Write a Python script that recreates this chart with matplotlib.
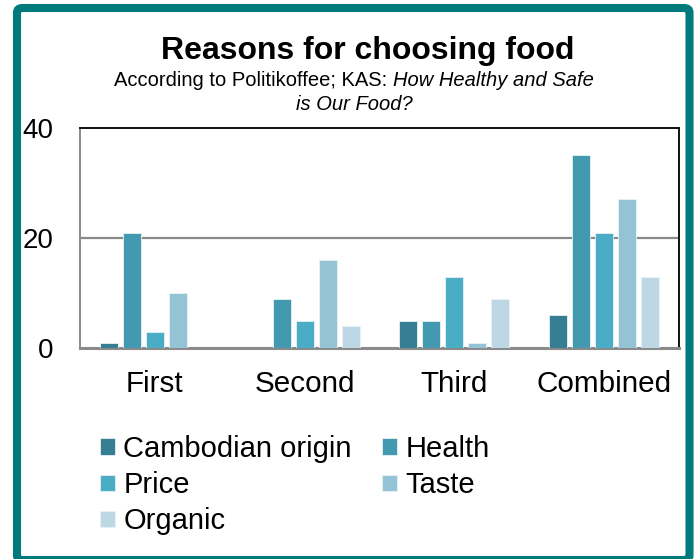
import matplotlib.pyplot as plt
import numpy as np
from matplotlib.patches import FancyBboxPatch

plt.rcParams['font.family'] = ['Liberation Sans', 'DejaVu Sans']

# survey answers per ranking position
groups = ['First', 'Second', 'Third', 'Combined']
reasons = ['Cambodian origin', 'Health', 'Price', 'Taste', 'Organic']
cambodian = [1, 0, 5, 6]
health = [21, 9, 5, 35]
price = [3, 5, 13, 21]
taste = [10, 16, 1, 27]
organic = [0, 4, 9, 13]
colors = ['#367F93', '#4399AF', '#4BACC6', '#93C3D5', '#BDD7E4']

W, H = 694, 559
fig = plt.figure(figsize=(W / 100, H / 100), dpi=100)
ax = fig.add_axes([80 / W, 1 - 348 / H, 599 / W, 220 / H])

x = np.arange(len(groups))
step = 23 / 150
width = 18 / 150
series = [cambodian, health, price, taste, organic]
bars = []
for i, (vals, col, name) in enumerate(zip(series, colors, reasons)):
    b = ax.bar(x + (i - 2) * step, vals, width, color=col, label=name,
               edgecolor='#e8f2f6', linewidth=0.6, zorder=3)
    bars.append(b)

ax.set_xlim(-0.5, 3.5)
ax.set_ylim(0, 40)
ax.set_yticks([0, 20, 40])
ax.set_yticklabels(['0', '20', '40'], fontsize=20)
ax.set_xticks(x)
ax.set_xticklabels(groups, fontsize=21.3)
ax.tick_params(length=0)
ax.tick_params(axis='y', pad=19)
ax.tick_params(axis='x', pad=16)
ax.axhline(20, color='#8a8a8a', linewidth=1.6, zorder=1)

for side in ['top', 'right']:
    ax.spines[side].set_color('#111111')
    ax.spines[side].set_linewidth(1.4)
ax.spines['left'].set_color('#8a8a8a')
ax.spines['left'].set_linewidth(1.4)
ax.spines['bottom'].set_color('#8a8a8a')
ax.spines['bottom'].set_linewidth(2.2)

fig.text(368 / W, 1 - 51 / H, 'Reasons for choosing food', ha='center',
         va='center', fontsize=23, fontweight='bold')

# subtitle: plain source, then the report name in italics
renderer = fig.canvas.get_renderer()
part1 = fig.text(0, 1 - 81 / H, 'According to Politikoffee; KAS: ',
                 ha='left', va='center', fontsize=14.5)
part2 = fig.text(0, 1 - 81 / H, 'How Healthy and Safe', ha='left',
                 va='center', fontsize=14.5, style='italic')
w1 = part1.get_window_extent(renderer).width
w2 = part2.get_window_extent(renderer).width
left = 354 - (w1 + w2) / 2
part1.set_x(left / W)
part2.set_x((left + w1) / W)
fig.text(354 / W, 1 - 105 / H, 'is Our Food?', ha='center', va='center',
         fontsize=14.5, style='italic')

# reorder so the legend reads row by row
order = [0, 2, 4, 1, 3]
fig.legend([bars[i] for i in order], [reasons[i] for i in order],
           loc='upper left', bbox_to_anchor=(100 / W, 1 - 435 / H),
           ncol=2, frameon=False, fontsize=21, handlelength=0.5,
           handleheight=0.5, handletextpad=0.3, columnspacing=1.05,
           labelspacing=0.28, borderaxespad=0, borderpad=0)

frame = FancyBboxPatch((17 / W, -1 / H), 672.5 / W, 552 / H,
                       boxstyle='round,pad=0,rounding_size=0.008',
                       transform=fig.transFigure, facecolor='none',
                       edgecolor='#007A7A', linewidth=5.8)
fig.patches.append(frame)

fig.savefig('out.png', dpi=100)
